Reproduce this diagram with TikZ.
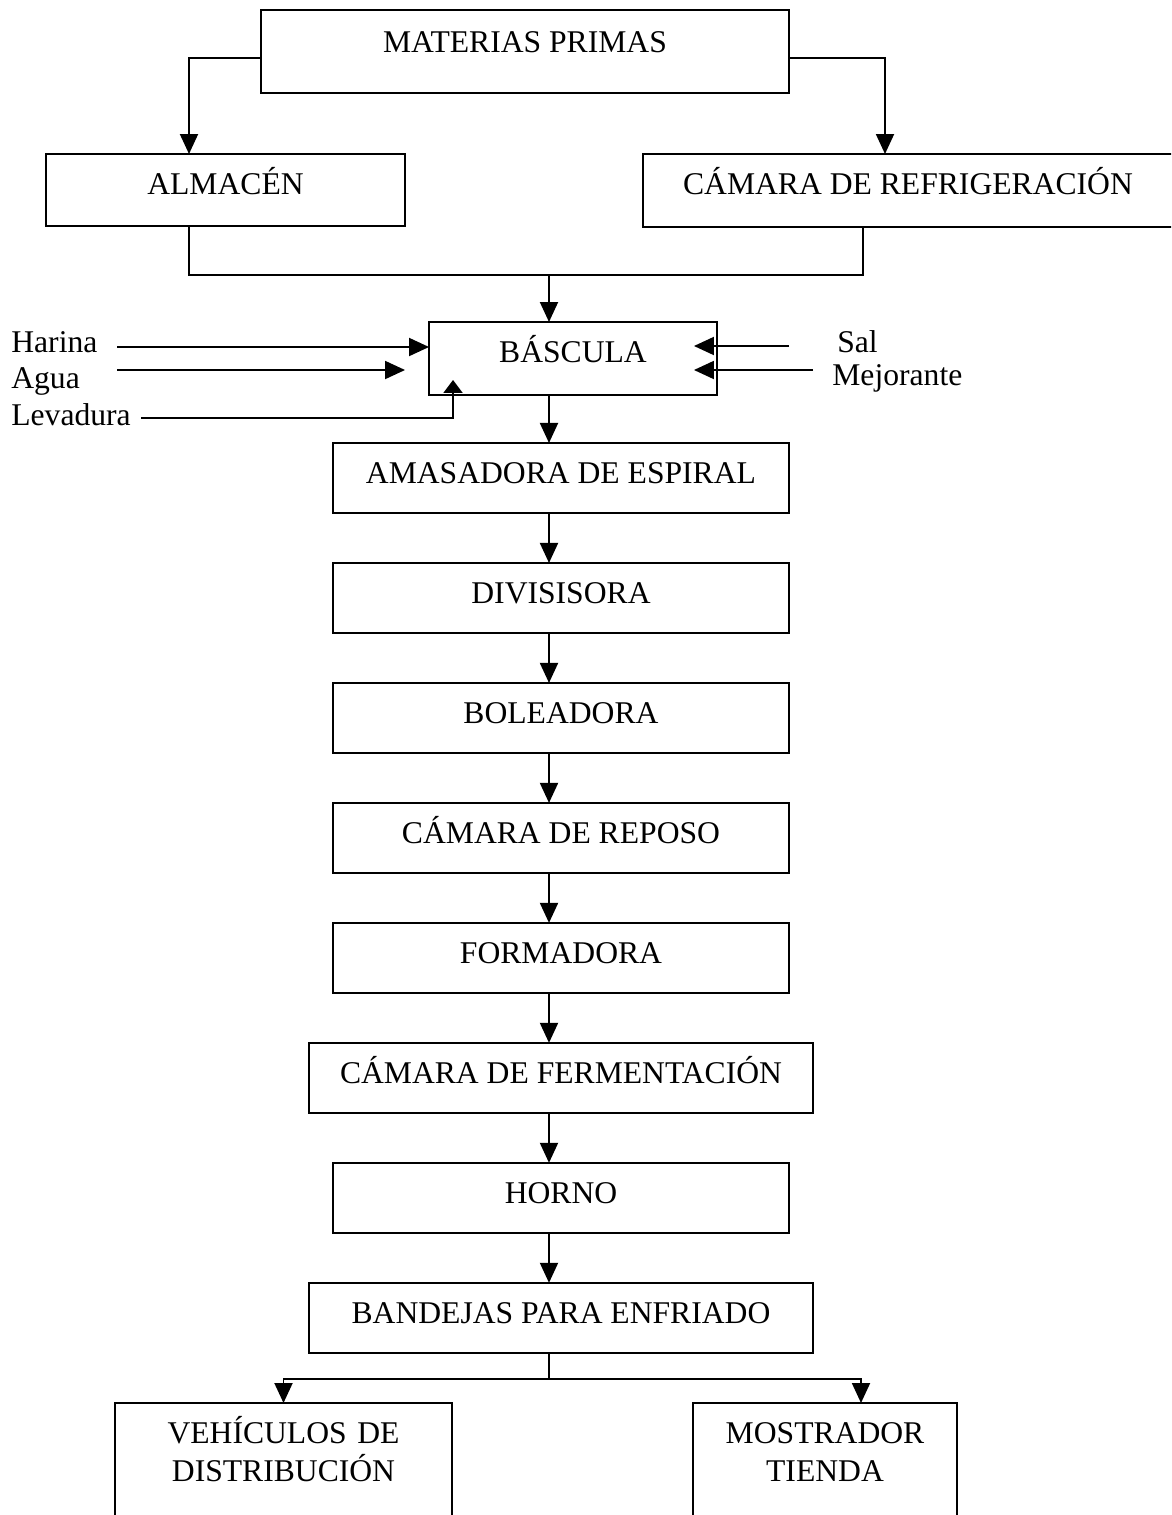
\documentclass[tikz,border=0pt]{standalone}
\usepackage{fontspec}
\setmainfont{Liberation Serif}
\usetikzlibrary{arrows.meta,positioning,calc}

\begin{document}
\begin{tikzpicture}[x=0.02cm, y=-0.02cm,
  node distance=1cm,
  box/.style={draw, line width=1.1pt, inner sep=0pt, outer sep=0pt, font=\fontsize{18}{21.5}\selectfont, text height=0.81cm, text depth=0.59cm},
  stage/.style={box, minimum width=9.12cm},
  wide/.style={box, minimum width=10.08cm},
  lbl/.style={inner sep=0pt, anchor=base west, font=\fontsize{18}{21.5}\selectfont},
  wire/.style={line width=1.1pt},
  arr/.style={wire, -{Triangle[length=0.4cm, width=0.36cm]}}]
  \useasboundingbox (0,0) rectangle (1171,1515);
  \clip (0,0) rectangle (1171,1515);
  \node[box, anchor=north, minimum width=10.56cm, text height=0.85cm, text depth=0.81cm] (mat) at (525,10) {MATERIAS PRIMAS};
  \node[box, anchor=north, minimum width=7.18cm, text depth=0.63cm] (alm) at (225.5,154) {ALMACÉN};
  \node[box, anchor=north, minimum width=10.6cm, text depth=0.65cm] (cam) at (908,154) {CÁMARA DE REFRIGERACIÓN};
  \draw[arr] ($(mat.west)+(0,6.5)$) -| ($(alm.north)+(-36.5,0)$);
  \draw[arr] ($(mat.east)+(0,6.5)$) -| ($(cam.north)+(-23,0)$);
  \node[box, anchor=north, minimum width=5.76cm, text depth=0.65cm] (basc) at (573,322) {BÁSCULA};
  \coordinate (junc) at (549,275);
  \draw[wire] ($(alm.south)+(-36.5,0)$) |- (junc) -| ($(cam.south)+(-45,0)$);
  \draw[arr] (junc) -- (basc.north -| junc);
  % ingredientes
  \node[lbl] (har) at (11,352) {Harina};
  \node[lbl] (agu) at (11,388) {Agua};
  \node[lbl] (lev) at (11,425) {Levadura};
  \node[lbl] (sal) at (837,352) {Sal};
  \node[lbl] (mej) at (832,385) {Mejorante};
  \coordinate (harS) at (117,347); \coordinate (aguS) at (117,370); \coordinate (levS) at (141,418);
  \coordinate (salS) at (789,346); \coordinate (mejS) at (813,370);
  \draw[arr] (harS) -- (basc.west |- harS);
  \draw[arr] (aguS) -- ($(basc.west |- aguS)+(-24,0)$);
  \draw[wire, -{Triangle[length=0.26cm, width=0.38cm]}] (levS) -| ($(basc.south west)+(24,-15)$);
  \draw[arr] (salS) -- ($(basc.east |- salS)+(-23,0)$);
  \draw[arr] (mejS) -- ($(basc.east |- mejS)+(-23,0)$);
  % linea de proceso
  \node[stage, below=0.96cm of basc, xshift=-0.24cm] (amas) {AMASADORA DE ESPIRAL};
  \node[stage, below=of amas] (div) {DIVISISORA};
  \node[stage, below=of div] (bol) {BOLEADORA};
  \node[stage, below=of bol] (rep) {CÁMARA DE REPOSO};
  \node[stage, below=of rep] (form) {FORMADORA};
  \node[wide, below=of form] (ferm) {CÁMARA DE FERMENTACIÓN};
  \node[stage, below=of ferm] (horno) {HORNO};
  \node[wide, below=of horno] (band) {BANDEJAS PARA ENFRIADO};
  \coordinate (spine) at (549,0);
  \draw[arr] (basc.south -| spine) -- (amas.north -| spine); \draw[arr] (amas.south -| spine) -- (div.north -| spine);
  \draw[arr] (div.south -| spine) -- (bol.north -| spine); \draw[arr] (bol.south -| spine) -- (rep.north -| spine);
  \draw[arr] (rep.south -| spine) -- (form.north -| spine); \draw[arr] (form.south -| spine) -- (ferm.north -| spine);
  \draw[arr] (ferm.south -| spine) -- (horno.north -| spine); \draw[arr] (horno.south -| spine) -- (band.north -| spine);
  % salida
  \node[box, anchor=north, align=center, text width=6.74cm, text depth=2.4cm] (veh) at (283.5,1403) {VEHÍCULOS DE\\DISTRIBUCIÓN};
  \node[box, anchor=north, align=center, text width=5.28cm, text depth=2.4cm] (mos) at (825,1403) {MOSTRADOR\\TIENDA};
  \coordinate (fork) at (549,1379);
  \draw[wire] (band.south -| fork) -- (fork);
  \draw[arr] (fork) -| (veh.north);
  \draw[arr] (fork) -| ($(mos.north)+(36,0)$);
\end{tikzpicture}
\end{document}
